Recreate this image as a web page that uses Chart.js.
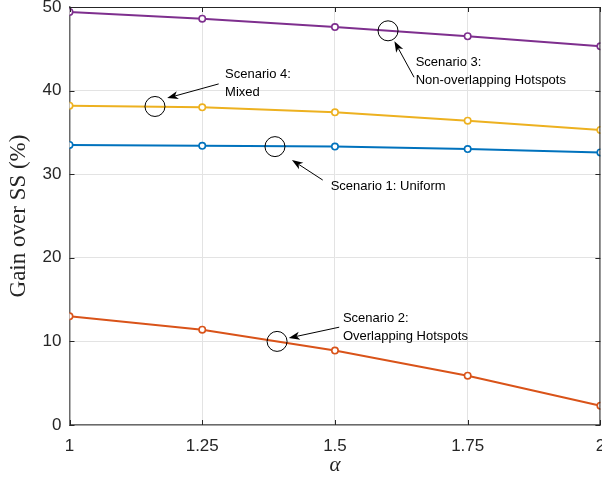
<!DOCTYPE html>
<html><head><meta charset="utf-8">
<script src="https://cdn.jsdelivr.net/npm/chart.js@4"></script>
<style>html,body{margin:0;padding:0;background:#fff;overflow:hidden;width:602px;height:485px}#wrap{width:606px;height:485px;position:relative}</style>
</head><body><div id="wrap"><canvas id="c"></canvas></div>
<script>
// Gain over SS (%) versus alpha for the four user-distribution scenarios
const alphaValues = [1, 1.25, 1.5, 1.75, 2];
const uniformGain = [33.5, 33.4, 33.3, 33.0, 32.6];
const overlappingGain = [13.0, 11.4, 8.9, 5.9, 2.3];
const nonOverlappingGain = [49.4, 48.6, 47.6, 46.5, 45.3];
const mixedGain = [38.2, 38.0, 37.4, 36.4, 35.3];
const xTicks = [1, 1.25, 1.5, 1.75, 2];
const yTicks = [0, 10, 20, 30, 40, 50];

// Callouts, in data coordinates: circle on a curve, arrow tail -> head, text anchor
const calloutLabels = [
  ['Scenario 3:', 'Non-overlapping Hotspots'],
  ['Scenario 4:', 'Mixed'],
  ['Scenario 1: Uniform'],
  ['Scenario 2:', 'Overlapping Hotspots']
];
const calloutCircles = [[1.6, 47.15], [1.161, 38.1], [1.387, 33.3], [1.391, 10.0]];
const calloutTails = [[1.649, 41.6], [1.281, 40.8], [1.477, 29.3], [1.508, 11.7]];
const calloutHeads = [[1.612, 45.9], [1.184, 39.1], [1.419, 31.7], [1.413, 10.4]];
const calloutText = [[1.652, 43.4], [1.293, 41.9], [1.492, 28.5], [1.515, 12.7]];

const pts = vals => alphaValues.map((a, i) => ({x: a, y: vals[i]}));
const series = (data, color) => ({
  data: pts(data), borderColor: color, backgroundColor: color,
  borderWidth: 2, pointRadius: 3.2, pointBorderWidth: 1.6,
  pointBackgroundColor: '#fff', pointBorderColor: color, tension: 0
});

const AXIS = '#262626';

function drawArrow(ctx, x0, y0, x1, y1) {
  const ang = Math.atan2(y1 - y0, x1 - x0);
  const L = 11, W = 4, back = 3;
  const c = Math.cos(ang), s = Math.sin(ang);
  const bx = x1 - c * L, by = y1 - s * L;
  const nx = -s, ny = c;
  ctx.beginPath();
  ctx.moveTo(x0, y0);
  ctx.lineTo(x1 - c * (L - back), y1 - s * (L - back));
  ctx.stroke();
  ctx.beginPath();
  ctx.moveTo(x1, y1);
  ctx.lineTo(bx + nx * W, by + ny * W);
  ctx.lineTo(x1 - c * (L - back), y1 - s * (L - back));
  ctx.lineTo(bx - nx * W, by - ny * W);
  ctx.closePath();
  ctx.fill();
}

const framePlugin = {
  id: 'frame',
  afterDatasetsDraw(chart) {
    const {ctx, chartArea: a, scales: {x, y}} = chart;
    ctx.save();
    // box and inward tick marks
    ctx.strokeStyle = AXIS;
    ctx.lineWidth = 1;
    ctx.beginPath();
    ctx.moveTo(a.left, a.top + 0.5); ctx.lineTo(a.right, a.top + 0.5);
    ctx.moveTo(a.right - 0.5, a.top); ctx.lineTo(a.right - 0.5, a.bottom);
    yTicks.forEach(v => {
      const py = Math.round(y.getPixelForValue(v)) + 0.5;
      ctx.moveTo(a.left, py); ctx.lineTo(a.left + 5, py);
      ctx.moveTo(a.right, py); ctx.lineTo(a.right - 5, py);
    });
    xTicks.forEach(v => {
      const px = Math.round(x.getPixelForValue(v)) + 0.5;
      ctx.moveTo(px, a.bottom); ctx.lineTo(px, a.bottom - 5);
      ctx.moveTo(px, a.top); ctx.lineTo(px, a.top + 5);
    });
    ctx.stroke();

    // callouts
    ctx.strokeStyle = '#000';
    ctx.fillStyle = '#000';
    ctx.lineWidth = 1;
    ctx.font = '13px "Liberation Sans", Arial, sans-serif';
    ctx.textAlign = 'left';
    ctx.textBaseline = 'middle';
    calloutLabels.forEach((lines, i) => {
      const cx = x.getPixelForValue(calloutCircles[i][0]);
      const cy = y.getPixelForValue(calloutCircles[i][1]);
      ctx.beginPath();
      ctx.arc(cx, cy, 10, 0, Math.PI * 2);
      ctx.stroke();
      drawArrow(ctx,
        x.getPixelForValue(calloutTails[i][0]), y.getPixelForValue(calloutTails[i][1]),
        x.getPixelForValue(calloutHeads[i][0]), y.getPixelForValue(calloutHeads[i][1]));
      const tx = x.getPixelForValue(calloutText[i][0]);
      const ty = y.getPixelForValue(calloutText[i][1]);
      lines.forEach((s, k) => ctx.fillText(s, tx, ty + k * 18));
    });
    ctx.restore();
  }
};

new Chart(document.getElementById('c'), {
  type: 'line',
  data: {
    datasets: [
      series(uniformGain, '#0072BD'),
      series(overlappingGain, '#D95319'),
      series(mixedGain, '#EDB120'),
      series(nonOverlappingGain, '#7E2F8E')
    ]
  },
  options: {
    responsive: true,
    maintainAspectRatio: false,
    animation: false,
    layout: {padding: {top: 7, right: 0, left: 0, bottom: 0}},
    plugins: {legend: {display: false}, tooltip: {enabled: false}},
    scales: {
      x: {
        type: 'linear', min: 1, max: 2,
        afterBuildTicks: s => { s.ticks = xTicks.map(v => ({value: v})); },
        afterFit: s => { s.height = 60; s.paddingLeft = 0; s.paddingRight = 0; },
        ticks: {color: AXIS, padding: 11, callback: v => String(v),
          font: {family: '"Liberation Sans", Arial, sans-serif', size: 17}},
        grid: {color: '#e3e3e3', drawTicks: false},
        border: {color: '#6a6a6a', width: 1.5},
        title: {display: true, text: 'α', color: AXIS, padding: {top: 0, bottom: 7},
          font: {family: '"Liberation Serif", "Times New Roman", serif', size: 21, style: 'italic'}}
      },
      y: {
        min: 0, max: 50,
        afterBuildTicks: s => { s.ticks = yTicks.map(v => ({value: v})); },
        afterFit: s => { s.width = 69.5; s.paddingTop = 0; s.paddingBottom = 0; },
        ticks: {color: AXIS, padding: 8, callback: v => String(v),
          font: {family: '"Liberation Sans", Arial, sans-serif', size: 17}},
        grid: {color: '#e3e3e3', drawTicks: false},
        border: {color: '#6a6a6a', width: 1.5},
        title: {display: true, text: 'Gain over SS (%)', color: AXIS, padding: {top: 5, bottom: 0},
          font: {family: '"Liberation Serif", "Times New Roman", serif', size: 23}}
      }
    }
  },
  plugins: [framePlugin]
});
</script>
</body></html>
